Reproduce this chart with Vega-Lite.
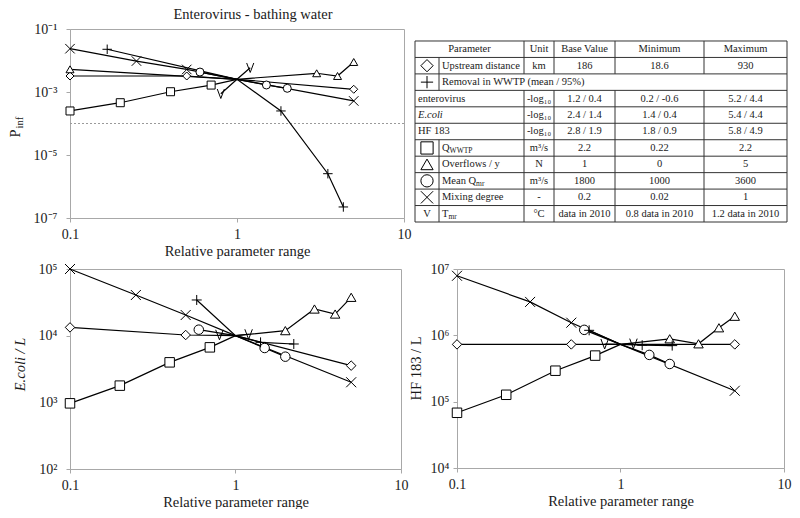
{
  "$schema": "https://vega.github.io/schema/vega-lite/v6.json",
  "padding": {"left": 6, "top": 6, "right": 0, "bottom": 0},
  "background": "white",
  "config": {
    "font": "Liberation Serif",
    "view": {"stroke": "#a8a8a8", "strokeWidth": 1},
    "axis": {"domainColor": "#a8a8a8", "tickColor": "#a8a8a8", "labelColor": "#1a1a1a", "titleColor": "#1a1a1a", "labelFontSize": 14, "titleFontSize": 14.5, "titleFontWeight": "normal", "grid": false, "tickSize": 4, "labelFont": "Liberation Serif", "titleFont": "Liberation Serif"},
    "text": {"font": "Liberation Serif"}
  },
  "datasets": {
    "pts": [
      {"panel": "TL", "series": "upstream", "x": 0.1, "y": 0.00322},
      {"panel": "TL", "series": "upstream", "x": 0.5, "y": 0.00322},
      {"panel": "TL", "series": "upstream", "x": 1, "y": 0.00253},
      {"panel": "TL", "series": "upstream", "x": 5, "y": 0.00122},
      {"panel": "TL", "series": "removal", "x": 0.167, "y": 0.0227},
      {"panel": "TL", "series": "removal", "x": 1, "y": 0.00253},
      {"panel": "TL", "series": "removal", "x": 1.833, "y": 0.00025},
      {"panel": "TL", "series": "removal", "x": 3.5, "y": 2.55e-6},
      {"panel": "TL", "series": "removal", "x": 4.333, "y": 2.24e-7},
      {"panel": "TL", "series": "qwwtp", "x": 0.1, "y": 0.00025},
      {"panel": "TL", "series": "qwwtp", "x": 0.2, "y": 0.000457},
      {"panel": "TL", "series": "qwwtp", "x": 0.4, "y": 0.00102},
      {"panel": "TL", "series": "qwwtp", "x": 0.7, "y": 0.00166},
      {"panel": "TL", "series": "qwwtp", "x": 1, "y": 0.00253},
      {"panel": "TL", "series": "overflows", "x": 0.1, "y": 0.00525},
      {"panel": "TL", "series": "overflows", "x": 1, "y": 0.00253},
      {"panel": "TL", "series": "overflows", "x": 3, "y": 0.00393},
      {"panel": "TL", "series": "overflows", "x": 4, "y": 0.00322},
      {"panel": "TL", "series": "overflows", "x": 5, "y": 0.00896},
      {"panel": "TL", "series": "meanq", "x": 0.6, "y": 0.0043},
      {"panel": "TL", "series": "meanq", "x": 1, "y": 0.00253},
      {"panel": "TL", "series": "meanq", "x": 1.5, "y": 0.00167},
      {"panel": "TL", "series": "meanq", "x": 2, "y": 0.00131},
      {"panel": "TL", "series": "mixing", "x": 0.1, "y": 0.0237},
      {"panel": "TL", "series": "mixing", "x": 0.25, "y": 0.0096},
      {"panel": "TL", "series": "mixing", "x": 0.5, "y": 0.0052},
      {"panel": "TL", "series": "mixing", "x": 1, "y": 0.00253},
      {"panel": "TL", "series": "mixing", "x": 5, "y": 0.00052},
      {"panel": "TL", "series": "tmr", "x": 0.8, "y": 0.00088},
      {"panel": "TL", "series": "tmr", "x": 1, "y": 0.00253},
      {"panel": "TL", "series": "tmr", "x": 1.2, "y": 0.0059},

      {"panel": "BL", "series": "upstream", "x": 0.1, "y": 13300},
      {"panel": "BL", "series": "upstream", "x": 0.5, "y": 10230},
      {"panel": "BL", "series": "upstream", "x": 1, "y": 10000},
      {"panel": "BL", "series": "upstream", "x": 5, "y": 3550},
      {"panel": "BL", "series": "removal", "x": 0.583, "y": 34300},
      {"panel": "BL", "series": "removal", "x": 1, "y": 10000},
      {"panel": "BL", "series": "removal", "x": 1.417, "y": 7940},
      {"panel": "BL", "series": "removal", "x": 2.25, "y": 7500},
      {"panel": "BL", "series": "qwwtp", "x": 0.1, "y": 966},
      {"panel": "BL", "series": "qwwtp", "x": 0.2, "y": 1780},
      {"panel": "BL", "series": "qwwtp", "x": 0.4, "y": 3980},
      {"panel": "BL", "series": "qwwtp", "x": 0.7, "y": 6680},
      {"panel": "BL", "series": "qwwtp", "x": 1, "y": 10000},
      {"panel": "BL", "series": "overflows", "x": 1, "y": 10000},
      {"panel": "BL", "series": "overflows", "x": 2, "y": 11900},
      {"panel": "BL", "series": "overflows", "x": 3, "y": 25100},
      {"panel": "BL", "series": "overflows", "x": 4, "y": 21100},
      {"panel": "BL", "series": "overflows", "x": 5, "y": 37600},
      {"panel": "BL", "series": "meanq", "x": 0.6, "y": 12300},
      {"panel": "BL", "series": "meanq", "x": 1, "y": 10000},
      {"panel": "BL", "series": "meanq", "x": 1.5, "y": 6530},
      {"panel": "BL", "series": "meanq", "x": 2, "y": 4840},
      {"panel": "BL", "series": "mixing", "x": 0.1, "y": 100000},
      {"panel": "BL", "series": "mixing", "x": 0.25, "y": 40700},
      {"panel": "BL", "series": "mixing", "x": 0.5, "y": 20400},
      {"panel": "BL", "series": "mixing", "x": 1, "y": 10000},
      {"panel": "BL", "series": "mixing", "x": 5, "y": 2000},
      {"panel": "BL", "series": "tmr", "x": 0.8, "y": 10300},
      {"panel": "BL", "series": "tmr", "x": 1, "y": 10000},
      {"panel": "BL", "series": "tmr", "x": 1.2, "y": 10500},

      {"panel": "BR", "series": "upstream", "x": 0.1, "y": 730000},
      {"panel": "BR", "series": "upstream", "x": 0.5, "y": 730000},
      {"panel": "BR", "series": "upstream", "x": 1, "y": 730000},
      {"panel": "BR", "series": "upstream", "x": 5, "y": 730000},
      {"panel": "BR", "series": "removal", "x": 0.643, "y": 1190000},
      {"panel": "BR", "series": "removal", "x": 1, "y": 730000},
      {"panel": "BR", "series": "removal", "x": 1.357, "y": 710000},
      {"panel": "BR", "series": "removal", "x": 2.071, "y": 700000},
      {"panel": "BR", "series": "qwwtp", "x": 0.1, "y": 68000},
      {"panel": "BR", "series": "qwwtp", "x": 0.2, "y": 127000},
      {"panel": "BR", "series": "qwwtp", "x": 0.4, "y": 293000},
      {"panel": "BR", "series": "qwwtp", "x": 0.7, "y": 495000},
      {"panel": "BR", "series": "qwwtp", "x": 1, "y": 730000},
      {"panel": "BR", "series": "overflows", "x": 1, "y": 730000},
      {"panel": "BR", "series": "overflows", "x": 2, "y": 887000},
      {"panel": "BR", "series": "overflows", "x": 3, "y": 745000},
      {"panel": "BR", "series": "overflows", "x": 4, "y": 1300000},
      {"panel": "BR", "series": "overflows", "x": 5, "y": 1940000},
      {"panel": "BR", "series": "meanq", "x": 0.6, "y": 1210000},
      {"panel": "BR", "series": "meanq", "x": 1, "y": 730000},
      {"panel": "BR", "series": "meanq", "x": 1.5, "y": 507000},
      {"panel": "BR", "series": "meanq", "x": 2, "y": 370000},
      {"panel": "BR", "series": "mixing", "x": 0.1, "y": 7900000},
      {"panel": "BR", "series": "mixing", "x": 0.28, "y": 3190000},
      {"panel": "BR", "series": "mixing", "x": 0.5, "y": 1550000},
      {"panel": "BR", "series": "mixing", "x": 1, "y": 730000},
      {"panel": "BR", "series": "mixing", "x": 5, "y": 146000},
      {"panel": "BR", "series": "tmr", "x": 0.8, "y": 740000},
      {"panel": "BR", "series": "tmr", "x": 1, "y": 730000},
      {"panel": "BR", "series": "tmr", "x": 1.2, "y": 750000}
    ],
    "cols": [
      {"col": "hdr", "cx": 54.5, "lx": 0},
      {"col": "sym", "cx": 12, "lx": 0},
      {"col": "symtxt", "cx": 12, "lx": 0},
      {"col": "lab", "cx": 54.5, "lx": 0},
      {"col": "labi", "cx": 54.5, "lx": 0},
      {"col": "param", "cx": 66.5, "lx": 24},
      {"col": "subQ", "cx": 31.6, "lx": 31.6},
      {"col": "subM", "cx": 58.1, "lx": 58.1},
      {"col": "subT", "cx": 30.4, "lx": 30.4},
      {"col": "unit", "cx": 124, "lx": 109},
      {"col": "base", "cx": 169.5, "lx": 139},
      {"col": "min", "cx": 244.5, "lx": 200},
      {"col": "max", "cx": 330.5, "lx": 289}
    ],
    "cells": [
      {"r": 0.5, "col": "hdr", "t": "Parameter"},
      {"r": 0.5, "col": "unit", "t": "Unit"},
      {"r": 0.5, "col": "base", "t": "Base Value"},
      {"r": 0.5, "col": "min", "t": "Minimum"},
      {"r": 0.5, "col": "max", "t": "Maximum"},
      {"r": 1.5, "col": "param", "t": "Upstream distance"},
      {"r": 1.5, "col": "unit", "t": "km"},
      {"r": 1.5, "col": "base", "t": "186"},
      {"r": 1.5, "col": "min", "t": "18.6"},
      {"r": 1.5, "col": "max", "t": "930"},
      {"r": 2.5, "col": "param", "t": "Removal in WWTP (mean / 95%)"},
      {"r": 3.5, "col": "lab", "t": "enterovirus"},
      {"r": 3.5, "col": "unit", "t": "-log₁₀"},
      {"r": 3.5, "col": "base", "t": "1.2 / 0.4"},
      {"r": 3.5, "col": "min", "t": "0.2 / -0.6"},
      {"r": 3.5, "col": "max", "t": "5.2 / 4.4"},
      {"r": 4.5, "col": "labi", "t": "E.coli"},
      {"r": 4.5, "col": "unit", "t": "-log₁₀"},
      {"r": 4.5, "col": "base", "t": "2.4 / 1.4"},
      {"r": 4.5, "col": "min", "t": "1.4 / 0.4"},
      {"r": 4.5, "col": "max", "t": "5.4 / 4.4"},
      {"r": 5.5, "col": "lab", "t": "HF 183"},
      {"r": 5.5, "col": "unit", "t": "-log₁₀"},
      {"r": 5.5, "col": "base", "t": "2.8 / 1.9"},
      {"r": 5.5, "col": "min", "t": "1.8 / 0.9"},
      {"r": 5.5, "col": "max", "t": "5.8 / 4.9"},
      {"r": 6.5, "col": "param", "t": "Q"},
      {"r": 6.5, "col": "subQ", "t": "WWTP"},
      {"r": 6.5, "col": "unit", "t": "m³/s"},
      {"r": 6.5, "col": "base", "t": "2.2"},
      {"r": 6.5, "col": "min", "t": "0.22"},
      {"r": 6.5, "col": "max", "t": "2.2"},
      {"r": 7.5, "col": "param", "t": "Overflows / y"},
      {"r": 7.5, "col": "unit", "t": "N"},
      {"r": 7.5, "col": "base", "t": "1"},
      {"r": 7.5, "col": "min", "t": "0"},
      {"r": 7.5, "col": "max", "t": "5"},
      {"r": 8.5, "col": "param", "t": "Mean Q"},
      {"r": 8.5, "col": "subM", "t": "mr"},
      {"r": 8.5, "col": "unit", "t": "m³/s"},
      {"r": 8.5, "col": "base", "t": "1800"},
      {"r": 8.5, "col": "min", "t": "1000"},
      {"r": 8.5, "col": "max", "t": "3600"},
      {"r": 9.5, "col": "param", "t": "Mixing degree"},
      {"r": 9.5, "col": "unit", "t": "-"},
      {"r": 9.5, "col": "base", "t": "0.2"},
      {"r": 9.5, "col": "min", "t": "0.02"},
      {"r": 9.5, "col": "max", "t": "1"},
      {"r": 10.5, "col": "symtxt", "t": "V"},
      {"r": 10.5, "col": "param", "t": "T"},
      {"r": 10.5, "col": "subT", "t": "mr"},
      {"r": 10.5, "col": "unit", "t": "°C"},
      {"r": 10.5, "col": "base", "t": "data in 2010"},
      {"r": 10.5, "col": "min", "t": "0.8 data in 2010"},
      {"r": 10.5, "col": "max", "t": "1.2 data in 2010"}
    ],
    "tsyms": [
      {"r": 1.5, "col": "sym", "series": "upstream"},
      {"r": 2.5, "col": "sym", "series": "removal"},
      {"r": 6.5, "col": "sym", "series": "qwwtp"},
      {"r": 7.5, "col": "sym", "series": "overflows"},
      {"r": 8.5, "col": "sym", "series": "meanq"},
      {"r": 9.5, "col": "sym", "series": "mixing"}
    ],
    "hlines": [
      {"r": 0}, {"r": 1}, {"r": 2}, {"r": 3}, {"r": 4}, {"r": 5},
      {"r": 6}, {"r": 7}, {"r": 8}, {"r": 9}, {"r": 10}, {"r": 11}
    ],
    "vlines": [
      {"x": 0, "r1": 0, "r2": 11},
      {"x": 372, "r1": 0, "r2": 11},
      {"x": 24, "r1": 1, "r2": 3},
      {"x": 24, "r1": 6, "r2": 11},
      {"x": 109, "r1": 0, "r2": 2},
      {"x": 109, "r1": 3, "r2": 11},
      {"x": 139, "r1": 0, "r2": 2},
      {"x": 139, "r1": 3, "r2": 11},
      {"x": 200, "r1": 0, "r2": 2},
      {"x": 200, "r1": 3, "r2": 11},
      {"x": 289, "r1": 0, "r2": 2},
      {"x": 289, "r1": 3, "r2": 11}
    ],
    "thresh": [{"p": 0.0001}]
  },
  "spacing": 3,
  "vconcat": [
    {
      "bounds": "flush",
      "spacing": 11,
      "hconcat": [
        {
          "width": 334,
          "height": 189,
          "title": {"text": "Enterovirus - bathing water", "fontSize": 14.5, "fontWeight": "normal", "offset": 0, "dx": 16, "color": "#1a1a1a", "font": "Liberation Serif"},
          "resolve": {"axis": {"y": "independent"}},
          "layer": [
            {
              "data": {"name": "thresh"},
              "mark": {"type": "rule", "strokeDash": [2, 2], "color": "#9a9a9a", "strokeWidth": 1},
              "encoding": {
                "y": {"field": "p", "type": "quantitative", "scale": {"type": "log", "domain": [1e-7, 0.1], "nice": false},
                      "axis": {"orient": "left", "title": "inf", "titleFontSize": 10.5, "titleX": -48, "titleY": 99, "titleAlign": "left", "titleBaseline": "alphabetic", "titleAngle": -90, "labels": false, "ticks": false, "domain": false, "grid": false}}
              }
            },
            {
              "data": {"name": "pts"},
              "transform": [{"filter": "datum.panel == 'TL'"}],
              "mark": {"type": "line", "color": "black", "strokeWidth": 1.2},
              "encoding": {
                "x": {"field": "x", "type": "quantitative", "scale": {"type": "log", "domain": [0.1, 10], "nice": false},
                      "axis": {"title": "Relative parameter range", "values": [0.1, 1, 10], "format": "~g", "labelFlush": false, "labelPadding": 5, "titlePadding": 3}},
                "y": {"field": "y", "type": "quantitative", "scale": {"type": "log", "domain": [1e-7, 0.1], "nice": false},
                      "axis": {"orient": "left", "title": "P", "titleX": -51, "titleY": 104, "titleAlign": "center", "titleBaseline": "alphabetic", "titleAngle": -90, "values": [1e-7, 1e-5, 0.001, 0.1], "labelPadding": 9, "labelBaseline": "middle",
                               "labelExpr": "'10' + replace(replace(replace(replace(replace(replace(replace(replace('' + round(log(datum.value)/LN10), '-', '⁻'), '1', '¹'), '2', '²'), '3', '³'), '4', '⁴'), '5', '⁵'), '6', '⁶'), '7', '⁷')"}},
                "detail": {"field": "series", "type": "nominal"},
                "order": {"field": "x", "type": "quantitative"}
              }
            },
            {
              "data": {"name": "pts"},
              "transform": [{"filter": "datum.panel == 'TL' && datum.x != 1 && indexof(['upstream','qwwtp','overflows','meanq'], datum.series) >= 0"}],
              "mark": {"type": "point", "filled": true, "fill": "white", "stroke": "black", "strokeWidth": 1, "size": 64, "opacity": 1},
              "encoding": {
                "x": {"field": "x", "type": "quantitative", "scale": {"type": "log", "domain": [0.1, 10], "nice": false}},
                "y": {"field": "y", "type": "quantitative", "scale": {"type": "log", "domain": [1e-7, 0.1], "nice": false}, "axis": null},
                "shape": {"field": "series", "type": "nominal", "legend": null,
                          "scale": {"domain": ["upstream", "removal", "qwwtp", "overflows", "meanq", "mixing", "tmr"], "range": ["diamond", "M-1,0L1,0M0,-1L0,1", "square", "triangle-up", "circle", "M-1,-1L1,1M-1,1L1,-1", "M-0.75,-1L0,1L0.75,-1"]}}
              }
            },
            {
              "data": {"name": "pts"},
              "transform": [{"filter": "datum.panel == 'TL' && datum.x != 1 && indexof(['upstream','qwwtp','overflows','meanq'], datum.series) < 0"}],
              "mark": {"type": "point", "filled": false, "stroke": "black", "strokeWidth": 1, "size": 90, "opacity": 1},
              "encoding": {
                "x": {"field": "x", "type": "quantitative", "scale": {"type": "log", "domain": [0.1, 10], "nice": false}},
                "y": {"field": "y", "type": "quantitative", "scale": {"type": "log", "domain": [1e-7, 0.1], "nice": false}, "axis": null},
                "shape": {"field": "series", "type": "nominal", "legend": null,
                          "scale": {"domain": ["upstream", "removal", "qwwtp", "overflows", "meanq", "mixing", "tmr"], "range": ["diamond", "M-1,0L1,0M0,-1L0,1", "square", "triangle-up", "circle", "M-1,-1L1,1M-1,1L1,-1", "M-0.75,-1L0,1L0.75,-1"]}}
              }
            }
          ]
        },
        {
          "width": 372,
          "height": 193,
          "view": {"stroke": null},
          "layer": [
            {
              "data": {"name": "hlines"},
              "mark": {"type": "rule", "color": "#333333", "strokeWidth": 1},
              "encoding": {
                "y": {"field": "r", "type": "quantitative", "scale": {"domain": [-0.729, 11], "reverse": true, "nice": false, "zero": false}, "axis": null},
                "x": {"datum": 0, "type": "quantitative", "scale": {"domain": [0, 372], "nice": false, "zero": false}, "axis": null},
                "x2": {"datum": 372}
              }
            },
            {
              "data": {"name": "vlines"},
              "mark": {"type": "rule", "color": "#333333", "strokeWidth": 1},
              "encoding": {
                "x": {"field": "x", "type": "quantitative", "scale": {"domain": [0, 372], "nice": false, "zero": false}, "axis": null},
                "y": {"field": "r1", "type": "quantitative", "scale": {"domain": [-0.729, 11], "reverse": true, "nice": false, "zero": false}, "axis": null},
                "y2": {"field": "r2"}
              }
            },
            {
              "data": {"name": "cells"},
              "transform": [
                {"filter": "indexof(['hdr','symtxt','unit','base','min','max'], datum.col) >= 0"},
                {"lookup": "col", "from": {"data": {"name": "cols"}, "key": "col", "fields": ["cx", "lx"]}}
              ],
              "mark": {"type": "text", "align": "center", "baseline": "middle", "fontSize": 10.5, "color": "#1a1a1a"},
              "encoding": {
                "x": {"field": "cx", "type": "quantitative", "scale": {"domain": [0, 372], "nice": false, "zero": false}, "axis": null},
                "y": {"field": "r", "type": "quantitative", "scale": {"domain": [-0.729, 11], "reverse": true, "nice": false, "zero": false}, "axis": null},
                "text": {"field": "t"}
              }
            },
            {
              "data": {"name": "cells"},
              "transform": [
                {"filter": "datum.col == 'param' || datum.col == 'lab'"},
                {"lookup": "col", "from": {"data": {"name": "cols"}, "key": "col", "fields": ["cx", "lx"]}}
              ],
              "mark": {"type": "text", "align": "left", "baseline": "middle", "dx": 3, "fontSize": 10.5, "color": "#1a1a1a"},
              "encoding": {
                "x": {"field": "lx", "type": "quantitative", "scale": {"domain": [0, 372], "nice": false, "zero": false}, "axis": null},
                "y": {"field": "r", "type": "quantitative", "scale": {"domain": [-0.729, 11], "reverse": true, "nice": false, "zero": false}, "axis": null},
                "text": {"field": "t"}
              }
            },
            {
              "data": {"name": "cells"},
              "transform": [
                {"filter": "datum.col == 'labi'"},
                {"lookup": "col", "from": {"data": {"name": "cols"}, "key": "col", "fields": ["cx", "lx"]}}
              ],
              "mark": {"type": "text", "align": "left", "baseline": "middle", "dx": 3, "fontSize": 10.5, "fontStyle": "italic", "color": "#1a1a1a"},
              "encoding": {
                "x": {"field": "lx", "type": "quantitative", "scale": {"domain": [0, 372], "nice": false, "zero": false}, "axis": null},
                "y": {"field": "r", "type": "quantitative", "scale": {"domain": [-0.729, 11], "reverse": true, "nice": false, "zero": false}, "axis": null},
                "text": {"field": "t"}
              }
            },
            {
              "data": {"name": "cells"},
              "transform": [
                {"filter": "indexof(['subQ','subM','subT'], datum.col) >= 0"},
                {"lookup": "col", "from": {"data": {"name": "cols"}, "key": "col", "fields": ["cx", "lx"]}}
              ],
              "mark": {"type": "text", "align": "left", "baseline": "middle", "dx": 3, "dy": 3, "fontSize": 7.5, "color": "#1a1a1a"},
              "encoding": {
                "x": {"field": "lx", "type": "quantitative", "scale": {"domain": [0, 372], "nice": false, "zero": false}, "axis": null},
                "y": {"field": "r", "type": "quantitative", "scale": {"domain": [-0.729, 11], "reverse": true, "nice": false, "zero": false}, "axis": null},
                "text": {"field": "t"}
              }
            },
            {
              "data": {"name": "tsyms"},
              "transform": [
                {"lookup": "col", "from": {"data": {"name": "cols"}, "key": "col", "fields": ["cx", "lx"]}}
              ],
              "mark": {"type": "point", "filled": false, "stroke": "black", "strokeWidth": 1, "size": 150, "opacity": 1},
              "encoding": {
                "x": {"field": "cx", "type": "quantitative", "scale": {"domain": [0, 372], "nice": false, "zero": false}, "axis": null},
                "y": {"field": "r", "type": "quantitative", "scale": {"domain": [-0.729, 11], "reverse": true, "nice": false, "zero": false}, "axis": null},
                "shape": {"field": "series", "type": "nominal", "legend": null,
                          "scale": {"domain": ["upstream", "removal", "qwwtp", "overflows", "meanq", "mixing", "tmr"], "range": ["diamond", "M-1,0L1,0M0,-1L0,1", "square", "triangle-up", "circle", "M-1,-1L1,1M-1,1L1,-1", "M-0.75,-1L0,1L0.75,-1"]}}
              }
            }
          ]
        }
      ]
    },
    {
      "bounds": "flush",
      "spacing": 56,
      "hconcat": [
        {
          "width": 331,
          "height": 200,
          "data": {"name": "pts"},
          "transform": [{"filter": "datum.panel == 'BL'"}],
          "layer": [
            {
              "mark": {"type": "line", "color": "black", "strokeWidth": 1.2},
              "encoding": {
                "x": {"field": "x", "type": "quantitative", "scale": {"type": "log", "domain": [0.1, 10], "nice": false},
                      "axis": {"title": "Relative parameter range", "values": [0.1, 1, 10], "format": "~g", "labelFlush": false, "labelPadding": 5, "titlePadding": 3}},
                "y": {"field": "y", "type": "quantitative", "scale": {"type": "log", "domain": [100, 100000], "nice": false},
                      "axis": {"title": "E.coli / L", "titleFontStyle": "italic", "titleX": -46, "titleY": 95, "titleAlign": "center", "titleBaseline": "alphabetic", "titleAngle": -90, "values": [100, 1000, 10000, 100000], "labelPadding": 9, "labelBaseline": "middle",
                               "labelExpr": "'10' + replace(replace(replace(replace(replace(replace(replace(replace('' + round(log(datum.value)/LN10), '-', '⁻'), '1', '¹'), '2', '²'), '3', '³'), '4', '⁴'), '5', '⁵'), '6', '⁶'), '7', '⁷')"}},
                "detail": {"field": "series", "type": "nominal"},
                "order": {"field": "x", "type": "quantitative"}
              }
            },
            {
              "transform": [{"filter": "datum.x != 1 && indexof(['upstream','qwwtp','overflows','meanq'], datum.series) >= 0"}],
              "mark": {"type": "point", "filled": true, "fill": "white", "stroke": "black", "strokeWidth": 1, "size": 90, "opacity": 1},
              "encoding": {
                "x": {"field": "x", "type": "quantitative"},
                "y": {"field": "y", "type": "quantitative"},
                "shape": {"field": "series", "type": "nominal", "legend": null,
                          "scale": {"domain": ["upstream", "removal", "qwwtp", "overflows", "meanq", "mixing", "tmr"], "range": ["diamond", "M-1,0L1,0M0,-1L0,1", "square", "triangle-up", "circle", "M-1,-1L1,1M-1,1L1,-1", "M-0.75,-1L0,1L0.75,-1"]}}
              }
            },
            {
              "transform": [{"filter": "datum.x != 1 && indexof(['upstream','qwwtp','overflows','meanq'], datum.series) < 0"}],
              "mark": {"type": "point", "filled": false, "stroke": "black", "strokeWidth": 1, "size": 100, "opacity": 1},
              "encoding": {
                "x": {"field": "x", "type": "quantitative"},
                "y": {"field": "y", "type": "quantitative"},
                "shape": {"field": "series", "type": "nominal", "legend": null,
                          "scale": {"domain": ["upstream", "removal", "qwwtp", "overflows", "meanq", "mixing", "tmr"], "range": ["diamond", "M-1,0L1,0M0,-1L0,1", "square", "triangle-up", "circle", "M-1,-1L1,1M-1,1L1,-1", "M-0.75,-1L0,1L0.75,-1"]}}
              }
            }
          ]
        },
        {
          "width": 327,
          "height": 199,
          "data": {"name": "pts"},
          "transform": [{"filter": "datum.panel == 'BR'"}],
          "layer": [
            {
              "mark": {"type": "line", "color": "black", "strokeWidth": 1.2},
              "encoding": {
                "x": {"field": "x", "type": "quantitative", "scale": {"type": "log", "domain": [0.1, 10], "nice": false},
                      "axis": {"title": "Relative parameter range", "values": [0.1, 1, 10], "format": "~g", "labelFlush": false, "labelPadding": 5, "titlePadding": 3}},
                "y": {"field": "y", "type": "quantitative", "scale": {"type": "log", "domain": [10000, 10000000], "nice": false},
                      "axis": {"title": "HF 183 / L", "titleX": -37, "titleY": 99, "titleAlign": "center", "titleBaseline": "alphabetic", "titleAngle": -90, "values": [10000, 100000, 1000000, 10000000], "labelPadding": 4, "labelBaseline": "middle",
                               "labelExpr": "'10' + replace(replace(replace(replace(replace(replace(replace(replace('' + round(log(datum.value)/LN10), '-', '⁻'), '1', '¹'), '2', '²'), '3', '³'), '4', '⁴'), '5', '⁵'), '6', '⁶'), '7', '⁷')"}},
                "detail": {"field": "series", "type": "nominal"},
                "order": {"field": "x", "type": "quantitative"}
              }
            },
            {
              "transform": [{"filter": "datum.x != 1 && indexof(['upstream','qwwtp','overflows','meanq'], datum.series) >= 0"}],
              "mark": {"type": "point", "filled": true, "fill": "white", "stroke": "black", "strokeWidth": 1, "size": 90, "opacity": 1},
              "encoding": {
                "x": {"field": "x", "type": "quantitative"},
                "y": {"field": "y", "type": "quantitative"},
                "shape": {"field": "series", "type": "nominal", "legend": null,
                          "scale": {"domain": ["upstream", "removal", "qwwtp", "overflows", "meanq", "mixing", "tmr"], "range": ["diamond", "M-1,0L1,0M0,-1L0,1", "square", "triangle-up", "circle", "M-1,-1L1,1M-1,1L1,-1", "M-0.75,-1L0,1L0.75,-1"]}}
              }
            },
            {
              "transform": [{"filter": "datum.x != 1 && indexof(['upstream','qwwtp','overflows','meanq'], datum.series) < 0"}],
              "mark": {"type": "point", "filled": false, "stroke": "black", "strokeWidth": 1, "size": 100, "opacity": 1},
              "encoding": {
                "x": {"field": "x", "type": "quantitative"},
                "y": {"field": "y", "type": "quantitative"},
                "shape": {"field": "series", "type": "nominal", "legend": null,
                          "scale": {"domain": ["upstream", "removal", "qwwtp", "overflows", "meanq", "mixing", "tmr"], "range": ["diamond", "M-1,0L1,0M0,-1L0,1", "square", "triangle-up", "circle", "M-1,-1L1,1M-1,1L1,-1", "M-0.75,-1L0,1L0.75,-1"]}}
              }
            }
          ]
        }
      ]
    }
  ]
}
